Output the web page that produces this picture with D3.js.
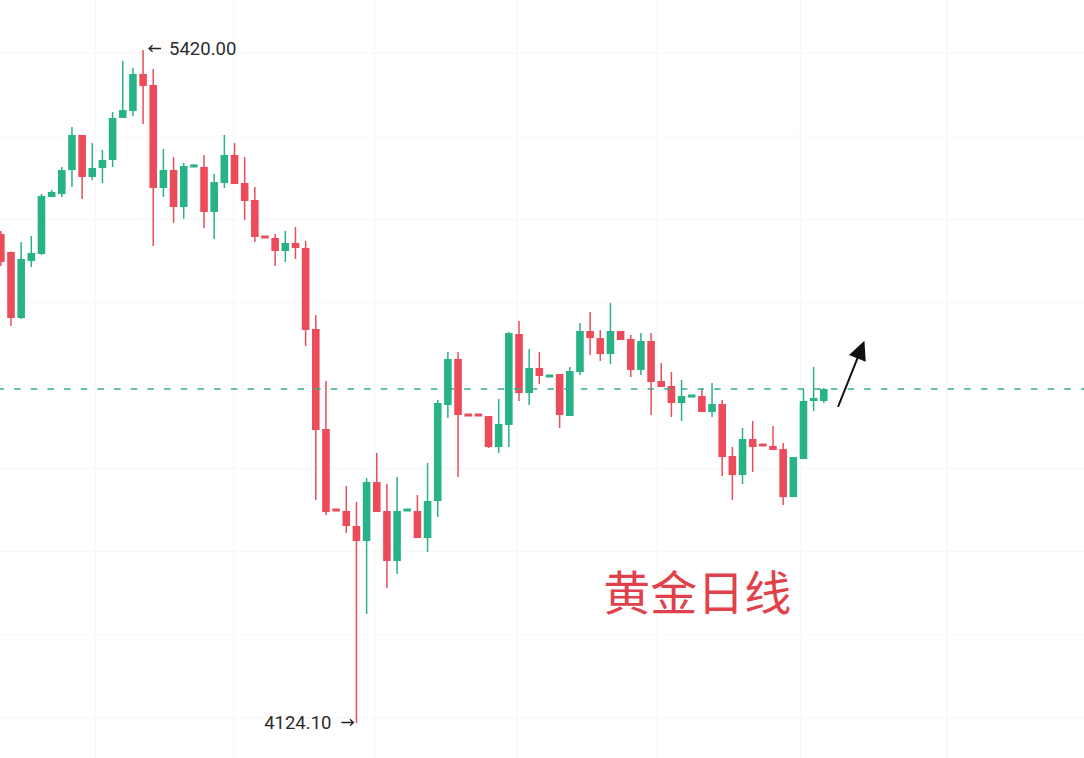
<!DOCTYPE html>
<html>
<head>
<meta charset="utf-8">
<script src="https://cdn.jsdelivr.net/npm/d3@7"></script>
<style>
  html, body { margin: 0; padding: 0; background: #ffffff; }
  svg { display: block; }
</style>
</head>
<body>
<svg id="chart" width="1084" height="758"></svg>
<script>
// ---- data (daily gold candles, left to right) ----
const opens  = [5065.7,5031.1,4903.9,5013.7,5027.2,5137.0,5142.7,5188.9,5256.3,5175.5,
                5192.8,5208.2,5289.1,5302.5,5373.8,5352.6,5154.3,5188.9,5117.7,5194.7,
                5194.7,5108.1,5163.9,5217.8,5163.9,5131.2,5061.9,5058.0,5033.0,5048.4,
                5038.8,4882.8,4690.2,4536.1,4532.3,4503.4,4474.5,4588.1,4532.3,4436.0,
                4532.3,4532.3,4480.3,4551.5,4736.4,4825.0,4719.1,4719.1,4715.2,4655.5,
                4697.9,4873.1,4759.5,4807.7,4790.3,4796.1,4715.2,4800.0,4878.9,4865.4,
                4834.6,4878.9,4863.5,4803.8,4859.6,4782.6,4773.0,4740.3,4751.8,4753.8,
                4722.9,4738.3,4638.2,4601.6,4670.9,4661.3,4657.4,4651.6,4559.2,4632.4,
                4744.1,4744.1];
const highs  = [5071.7,5032.0,5050.3,5061.9,5142.7,5150.4,5194.7,5271.7,5256.3,5240.9,
                5227.4,5300.6,5398.8,5385.3,5420.0,5383.4,5229.4,5213.9,5202.4,5200.5,
                5217.8,5181.2,5256.3,5240.9,5213.9,5156.2,5061.9,5065.7,5071.7,5079.4,
                5052.2,4909.7,4782.6,4536.1,4580.4,4549.6,4595.8,4643.9,4584.2,4597.7,
                4536.1,4563.0,4624.7,4746.0,4838.5,4838.5,4719.1,4719.1,4715.2,4748.0,
                4877.0,4898.1,4844.2,4838.5,4794.2,4796.1,4809.6,4894.3,4915.5,4880.8,
                4932.8,4878.9,4871.2,4875.0,4875.0,4817.3,4800.0,4784.6,4755.7,4767.2,
                4778.8,4746.0,4655.5,4692.1,4705.6,4661.3,4696.0,4663.2,4636.2,4767.2,
                4809.6,4769.2];
const lows   = [5004.1,4888.5,4902.0,5002.2,5025.3,5137.0,5137.0,5156.2,5133.1,5169.7,
                5163.9,5194.7,5289.1,5292.9,5277.5,5042.6,5137.0,5087.1,5094.8,5194.7,
                5077.4,5056.1,5154.3,5162.0,5092.8,5050.3,5058.0,5004.1,5011.8,5017.6,
                4850.0,4553.4,4524.6,4532.3,4489.9,4124.1,4334.0,4530.3,4384.0,4411.0,
                4532.3,4480.3,4453.3,4520.7,4711.4,4597.7,4715.2,4715.2,4653.6,4643.9,
                4655.5,4744.1,4736.4,4776.9,4790.3,4692.1,4715.2,4794.2,4832.7,4821.1,
                4815.4,4861.6,4790.3,4794.2,4717.2,4771.1,4713.3,4705.6,4751.8,4722.9,
                4713.3,4599.6,4553.4,4584.2,4607.3,4657.4,4649.7,4543.8,4559.2,4632.4,
                4724.9,4740.3];
const closes = [5011.8,4903.9,5017.6,5029.1,5138.9,5146.6,5188.9,5256.3,5175.5,5192.8,
                5208.2,5289.1,5304.5,5373.8,5350.7,5154.3,5188.9,5117.7,5196.6,5198.5,
                5108.1,5165.8,5217.8,5162.0,5129.3,5059.9,5058.0,5033.0,5048.4,5038.8,
                4880.8,4688.2,4530.3,4532.3,4503.4,4474.5,4588.1,4530.3,4436.0,4532.3,
                4536.1,4480.3,4551.5,4740.3,4825.0,4717.2,4715.2,4715.2,4655.5,4699.8,
                4875.0,4759.5,4807.7,4792.3,4794.2,4717.2,4801.9,4878.9,4865.4,4834.6,
                4878.9,4861.6,4803.8,4859.6,4780.7,4771.1,4740.3,4753.8,4755.7,4722.9,
                4738.3,4636.2,4601.6,4670.9,4655.5,4657.4,4649.7,4559.2,4636.2,4744.1,
                4749.9,4767.2];
const candleIdx = d3.range(opens.length);

// price marks / annotations
const highLabel = { idx: 14, price: 5420.00, text: "5420.00" };
const lowLabel  = { idx: 35, price: 4124.10, text: "4124.10" };
const lastPrice = closes[closes.length - 1];
const trendArrow = { fromIdx: 82.4, fromPrice: 4733, toIdx: 85.0, toPrice: 4860 };
const titleText = "黄金日线";
const titlePos = { idx: 59.3, price: 4341 };

// faint grid positions
const gridIdx = [9.3, 22.9, 36.8, 50.8, 64.6, 78.7, 93.1];
const gridPrices = [5414, 5254, 5094, 4934, 4774, 4614, 4454, 4294, 4134];

// ---- drawing ----
const W = 1084, H = 758;
const svg = d3.select("#chart");
const x = d3.scaleLinear().domain([0, 81]).range([0.84, 823.8]);
const y = d3.scaleLinear().domain([4124.1, 5420]).range([723, 50]);

const UP = "#27b387", DOWN = "#ec4c5a";
const bodyW = 7.6;

// grid (very faint)
svg.append("g").selectAll("line").data(gridIdx).join("line")
  .attr("x1", d => x(d)).attr("x2", d => x(d))
  .attr("y1", 0).attr("y2", H)
  .attr("stroke", "#f7f7f8").attr("stroke-width", 1.2);
svg.append("g").selectAll("line").data(gridPrices).join("line")
  .attr("x1", 0).attr("x2", W)
  .attr("y1", d => y(d)).attr("y2", d => y(d))
  .attr("stroke", "#f8f8f9").attr("stroke-width", 1.2);

// candles
const cg = svg.append("g");
const candles = cg.selectAll("g").data(candleIdx).join("g");
candles.append("line")
  .attr("x1", i => x(i)).attr("x2", i => x(i))
  .attr("y1", i => y(highs[i])).attr("y2", i => y(lows[i]))
  .attr("stroke", i => closes[i] >= opens[i] ? UP : DOWN)
  .attr("stroke-width", 1.5);
candles.append("rect")
  .attr("x", i => x(i) - bodyW / 2)
  .attr("width", bodyW)
  .attr("y", i => {
    const t = y(Math.max(opens[i], closes[i]));
    const b = y(Math.min(opens[i], closes[i]));
    return (b - t) < 3 ? (t + b) / 2 - 1.5 : t;
  })
  .attr("height", i => Math.max(3, Math.abs(y(opens[i]) - y(closes[i]))))
  .attr("fill", i => closes[i] >= opens[i] ? UP : DOWN);

// last price dashed line
svg.append("line")
  .attr("x1", -2.6).attr("x2", W)
  .attr("y1", y(lastPrice)).attr("y2", y(lastPrice))
  .attr("stroke", "#36ad8c").attr("stroke-width", 1.3)
  .attr("stroke-dasharray", "6.5 10.17");

// high / low labels
const labelFont = "Roboto, 'Liberation Sans', Arial, sans-serif";
function smallArrow(x1, x2, yy) {
  const dir = Math.sign(x2 - x1);
  svg.append("path")
    .attr("d", `M${x2},${yy}L${x1},${yy}M${x1 + dir * 3.5},${yy - 3.2}L${x1},${yy}L${x1 + dir * 3.5},${yy + 3.2}`)
    .attr("fill", "none").attr("stroke", "#222").attr("stroke-width", 1.3);
}
const hx = x(highLabel.idx), hy = y(highLabel.price);
smallArrow(hx + 6, hx + 18, hy - 1.5);
svg.append("text")
  .attr("x", hx + 26).attr("y", hy - 1.5)
  .attr("dominant-baseline", "central")
  .attr("font-family", labelFont).attr("font-size", 18.5)
  .attr("fill", "#2b2b2b")
  .text(highLabel.text);

const lx = x(lowLabel.idx), ly = y(lowLabel.price);
smallArrow(lx - 3, lx - 15, ly - 0.5);
svg.append("text")
  .attr("x", lx - 25).attr("y", ly - 0.5)
  .attr("text-anchor", "end")
  .attr("dominant-baseline", "central")
  .attr("font-family", labelFont).attr("font-size", 18.5)
  .attr("fill", "#2b2b2b")
  .text(lowLabel.text);

// trend arrow
const ax1 = x(trendArrow.fromIdx), ay1 = y(trendArrow.fromPrice);
const ax2 = x(trendArrow.toIdx), ay2 = y(trendArrow.toPrice);
const len = Math.hypot(ax2 - ax1, ay2 - ay1);
const ux = (ax2 - ax1) / len, uy = (ay2 - ay1) / len;
const headL = 19, headW = 9;
const bx = ax2 - ux * headL, by = ay2 - uy * headL;
svg.append("line")
  .attr("x1", ax1).attr("y1", ay1).attr("x2", bx + ux * 2).attr("y2", by + uy * 2)
  .attr("stroke", "#111").attr("stroke-width", 2);
svg.append("path")
  .attr("d", `M${ax2},${ay2}L${bx - uy * headW},${by + ux * headW}L${bx + uy * headW},${by - ux * headW}Z`)
  .attr("fill", "#111");

// title
svg.append("text")
  .attr("x", x(titlePos.idx)).attr("y", y(titlePos.price))
  .attr("font-family", "'Noto Sans CJK SC', sans-serif")
  .attr("font-size", 47)
  .attr("fill", "#e0414b")
  .text(titleText);
</script>
</body>
</html>
